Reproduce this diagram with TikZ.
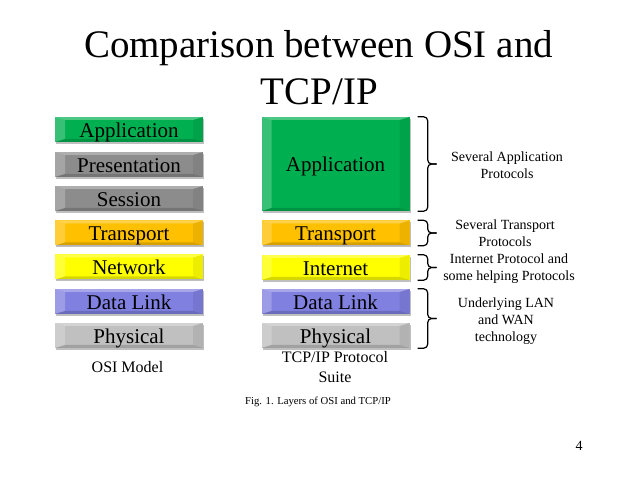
\documentclass[tikz,border=0pt]{standalone}
\usepackage{fontspec}
\setmainfont{Liberation Serif}
\usetikzlibrary{calc,shadows}
\definecolor{appgreen}{RGB}{0,176,80}
\definecolor{presgray}{RGB}{140,140,140}
\definecolor{transorange}{RGB}{255,192,0}
\definecolor{netyellow}{RGB}{255,255,0}
\definecolor{dlblue}{RGB}{128,128,224}
\definecolor{phygray}{RGB}{192,192,192}
\newcommand\layerbrace[2]{%
  \draw[bracestyle] (#1) -- ++(10pt,0pt) -- ($(#1)!.5!(#2)+(10pt,0pt)$) -- ++(9pt,0pt);
  \draw[bracestyle] ($(#1)!.5!(#2)+(19pt,0pt)$) -- ++(-9pt,0pt) -- ($(#2)+(10pt,0pt)$) -- (#2);
}
\begin{document}
\begin{tikzpicture}[x=1pt,y=-1pt,
  layerbox/.style={fill=#1, minimum width=148pt, minimum height=25pt, inner sep=0pt,
    text height=18pt, text depth=2pt,
    font=\fontsize{21}{24}\selectfont, text=black,
    drop shadow={shadow xshift=1pt,shadow yshift=-2pt,opacity=.25,fill=black},
    path picture={
      \fill[white,opacity=.3] (path picture bounding box.north west) -- (path picture bounding box.north east)
        -- ([shift={(-10pt,-3pt)}]path picture bounding box.north east) -- ([shift={(10pt,-3pt)}]path picture bounding box.north west) -- cycle;
      \fill[white,opacity=.22] (path picture bounding box.north west) -- ([shift={(10pt,-3pt)}]path picture bounding box.north west)
        -- ([shift={(10pt,3pt)}]path picture bounding box.south west) -- (path picture bounding box.south west) -- cycle;
      \fill[black,opacity=.07] (path picture bounding box.north east) -- ([shift={(-10pt,-3pt)}]path picture bounding box.north east)
        -- ([shift={(-10pt,3pt)}]path picture bounding box.south east) -- (path picture bounding box.south east) -- cycle;
      \fill[black,opacity=.16] (path picture bounding box.south west) -- (path picture bounding box.south east)
        -- ([shift={(-10pt,3pt)}]path picture bounding box.south east) -- ([shift={(10pt,3pt)}]path picture bounding box.south west) -- cycle;
    }},
  bracestyle/.style={draw=black, line width=1.2pt, rounded corners=4pt},
  bracelabel/.style={align=center, font=\fontsize{14}{17}\selectfont, inner sep=0pt},
  caption/.style={font=\fontsize{16}{19.5}\selectfont, inner sep=0pt, align=center}
]
\useasboundingbox (0,0) rectangle (638,478);

% title
\node[anchor=base, inner sep=0pt, font=\fontsize{39}{47}\selectfont] (title1) at (318.5,58) {Comparison between OSI and};
\node[anchor=base, inner sep=0pt, font=\fontsize{39}{47}\selectfont] (title2) at (319.5,105) {TCP/IP};

% OSI column
\node[layerbox=appgreen]    (oapp)   at (129,129.5) {Application};
\node[layerbox=presgray]    (opres)  at (129,164.5) {Presentation};
\node[layerbox=presgray]    (osess)  at (129,198.5) {Session};
\node[layerbox=transorange] (otrans) at (129,233)   {Transport};
\node[layerbox=netyellow]   (onet)   at (129,267)   {Network};
\node[layerbox=dlblue]      (odl)    at (129,301.5) {Data Link};
\node[layerbox=phygray]     (ophy)   at (129,335.5) {Physical};

% TCP/IP column
\node[layerbox=appgreen, minimum height=94pt] (tapp) at (335.5,164) {Application};
\node[layerbox=transorange] (ttrans) at (335.5,233)   {Transport};
\node[layerbox=netyellow]   (tint)   at (335.5,267.5) {Internet};
\node[layerbox=dlblue]      (tdl)    at (335.5,301.5) {Data Link};
\node[layerbox=phygray]     (tphy)   at (335.5,335.5) {Physical};

% captions
\node[caption, anchor=base] (osicap) at (127.5,373) {OSI Model};
\node[caption] (tcpcap) at (335,367) {TCP/IP Protocol\\Suite};
\node[anchor=base, inner sep=0pt, font=\fontsize{10.7}{13}\selectfont] (figcap) at (318,405) {Fig. 1. Layers of OSI and TCP/IP};
\node[anchor=base, inner sep=0pt, font=\fontsize{14}{16}\selectfont] (pagenum) at (579,451) {4};

% braces
\coordinate (b1t) at ([xshift=8pt]tapp.north east);
\coordinate (b1b) at ([xshift=8pt]tapp.south east);
\coordinate (b2t) at ([xshift=8pt]ttrans.north east);
\coordinate (b2b) at ([xshift=8pt]ttrans.south east);
\coordinate (b3t) at ([xshift=8pt]tint.north east);
\coordinate (b3b) at ([xshift=8pt]tint.south east);
\coordinate (b4t) at ([xshift=8pt]tdl.north east);
\coordinate (b4b) at ([xshift=8pt]tphy.south east);
\layerbrace{b1t}{b1b}
\layerbrace{b2t}{b2b}
\layerbrace{b3t}{b3b}
\layerbrace{b4t}{b4b}

% brace labels
\node[bracelabel] (l1) at (507,165)   {Several Application\\Protocols};
\node[bracelabel] (l2) at (505,233.5) {Several Transport\\Protocols};
\node[bracelabel] (l3) at (509,268.5) {Internet Protocol and\\some helping Protocols};
\node[bracelabel] (l4) at (506,321.5) {Underlying LAN\\and WAN\\technology};
\end{tikzpicture}
\end{document}
